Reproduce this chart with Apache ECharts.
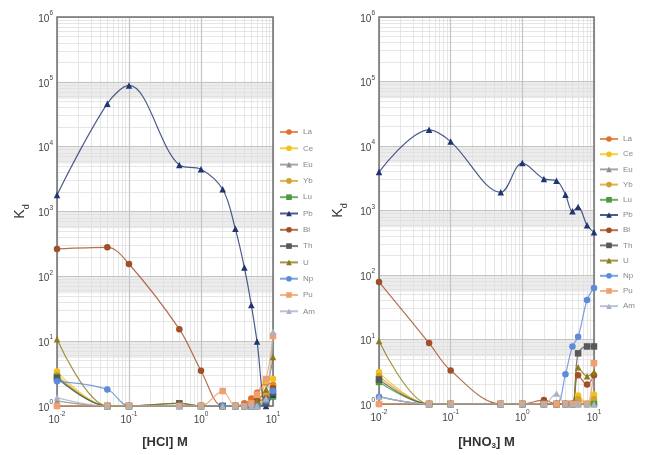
<!DOCTYPE html>
<html>
<head>
<meta charset="utf-8">
<script src="https://cdn.jsdelivr.net/npm/echarts@6/dist/echarts.min.js"></script>
<style>
html,body{margin:0;padding:0;background:#fff;}
#chart{width:648px;height:455px;}
</style>
</head>
<body>
<div id="chart"></div>
<script>
// acid concentration (M), same points for both panels
var conc=[0.01,0.05,0.1,0.5,1,2,3,4,5,6,8,10];
var elements=['La','Ce','Eu','Yb','Lu','Pb','Bi','Th','U','Np','Pu','Am'];

// Kd in HCl
var hclLa=[1,1,1,1,1,1,1,1.1,1.3,1.6,2.3,2.1];
var hclCe=[3.4,1,1,1,1,1,1,1,1,1,2.4,2.6];
var hclEu=[1.2,1,1,1,1,1,1,1,1,1,1.2,1.5];
var hclYb=[3.0,1,1,1,1,1,1,1,1,1,1.5,2.0];
var hclLu=[2.8,1,1,1,1,1,1,1,1,1,1.1,1.4];
var hclPb=[1800,46000,88000,5200,4500,2200,540,137,36,9.9,1,1.5];
var hclBi=[265,280,155,15.3,3.5,1,1,1,1.1,1.2,1.3,1.9];
var hclTh=[2.7,1,1,1.1,1,1,1,1,1,1,1.1,1.6];
var hclU=[10.7,1,1,1.1,1,1,1,1,1,1.2,1.8,5.7];
var hclNp=[2.4,1.8,1,1,1,1,1,1,1,1,1.2,1.7];
var hclPu=[1,1,1,1,1,1.7,1,1,1.1,1.5,2.6,12];
var hclAm=[1.35,1,1,1,1,1,1,1,1,1,1.3,14];

// Kd in HNO3
var hno3La=[1,1,1,1,1,1,1,1,1,1,1,1];
var hno3Ce=[3.1,1,1,1,1,1,1,1,1,1.35,1,1.4];
var hno3Eu=[1.3,1,1,1,1,1,1,1,1,1,1,1];
var hno3Yb=[2.7,1,1,1,1,1,1,1,1,1.2,1,1.2];
var hno3Lu=[2.2,1,1,1,1,1,1,1,1,1,1,1];
var hno3Pb=[3950,17800,11700,1910,5430,3090,2900,1760,975,1135,590,460];
var hno3Bi=[78,8.8,3.3,1,1,1.15,1,1,1,2.8,2.0,2.8];
var hno3Th=[2.4,1,1,1,1,1,1,1,1,6.1,7.8,7.8];
var hno3U=[9.5,1,1,1,1,1,1,1,1,3.7,2.7,3.1];
var hno3Np=[1.3,1,1,1,1,1,1,2.9,7.8,11,41,63];
var hno3Pu=[1,1,1,1,1,1,1,1,1,1,1,4.3];
var hno3Am=[1.3,1,1,1,1,1,1.45,1,1,1,1,1];

var hclData=[hclLa,hclCe,hclEu,hclYb,hclLu,hclPb,hclBi,hclTh,hclU,hclNp,hclPu,hclAm];
var hno3Data=[hno3La,hno3Ce,hno3Eu,hno3Yb,hno3Lu,hno3Pb,hno3Bi,hno3Th,hno3U,hno3Np,hno3Pu,hno3Am];

var colors=['#e0702e','#f3c21a','#8e8e8e','#d2a22e','#4e9a3a','#1f3470','#a24e26','#585858','#8b7a1a','#5b8bd9','#f0a070','#a9b3c6'];
var symbols=['circle','circle','triangle','circle','rect','triangle','circle','rect','triangle','circle','rect','triangle'];

var font='"Liberation Sans", Arial, sans-serif';

function pairs(ys){
	var out=[];
	for(var i=0;i<conc.length;i++){
		out.push([conc[i],ys[i]]);
	}
	return out;
}

function powLabel(v){
	var e=Math.round(Math.log(v)/Math.LN10);
	return '{b|10}{s|'+e+'}';
}
var powRich={
	b:{fontSize:10,color:'#444',fontFamily:font,lineHeight:14,verticalAlign:'bottom'},
	s:{fontSize:6.5,color:'#444',fontFamily:font,lineHeight:14,verticalAlign:'top'}
};

//网格辅助：次网格线和灰色条带
function gridHelper(idx){
	var lines=[];
	var n,k;
	for(n=-2;n<=0;n++){
		for(k=2;k<=9;k++){ lines.push({xAxis:k*Math.pow(10,n)}); }
	}
	for(n=0;n<=5;n++){
		for(k=2;k<=9;k++){ lines.push({yAxis:k*Math.pow(10,n)}); }
	}
	var bands=[];
	for(n=1;n<=5;n++){
		bands.push([{yAxis:5.5*Math.pow(10,n-1)},{yAxis:Math.pow(10,n)}]);
	}
	return {
		type:'line',
		name:'grid'+idx,
		xAxisIndex:idx,
		yAxisIndex:idx,
		data:[],
		silent:true,
		z:0,
		markLine:{
			silent:true,
			z:1,
			symbol:['none','none'],
			label:{show:false},
			animation:false,
			lineStyle:{color:'#e0e0e0',width:0.8,type:'solid'},
			data:lines
		},
		markArea:{
			silent:true,
			z:0,
			itemStyle:{color:'#ececec'},
			data:bands
		}
	};
}

var series=[gridHelper(0),gridHelper(1)];
function addPanel(dataList,idx){
	for(var i=0;i<elements.length;i++){
		series.push({
			name:elements[i],
			type:'line',
			xAxisIndex:idx,
			yAxisIndex:idx,
			data:pairs(dataList[i]),
			smooth:0.35,
			symbol:symbols[i],
			symbolSize:6.5,
			z:5,
			itemStyle:{color:colors[i]},
			lineStyle:{color:colors[i],width:1.2,opacity:0.8}
		});
	}
}
addPanel(hclData,0);
addPanel(hno3Data,1);

function xAx(idx,nameRich,nameText){
	return {
		type:'log',
		logBase:10,
		gridIndex:idx,
		min:0.01,
		max:10,
		splitNumber:3,
		name:nameText,
		nameLocation:'middle',
		nameGap:30,
		nameTextStyle:{rich:nameRich},
		axisLine:{show:false},
		axisTick:{show:false},
		axisLabel:{formatter:powLabel,rich:powRich,margin:5},
		splitLine:{show:true,lineStyle:{color:'#c4c4c4',width:1.2}},
		z:2
	};
}
function yAx(idx,gap){
	return {
		type:'log',
		logBase:10,
		gridIndex:idx,
		min:1,
		max:1000000,
		splitNumber:6,
		name:'{k|K}{d|d}',
		nameLocation:'middle',
		nameGap:gap,
		nameTextStyle:{rich:{
			k:{fontSize:14,color:'#333',fontFamily:font,lineHeight:18,verticalAlign:'top'},
			d:{fontSize:9,color:'#333',fontFamily:font,lineHeight:18,verticalAlign:'bottom'}
		}},
		axisLine:{show:false},
		axisTick:{show:false},
		axisLabel:{formatter:powLabel,rich:powRich,margin:4},
		splitLine:{show:true,lineStyle:{color:'#c4c4c4',width:1.2}},
		z:2
	};
}

var nameRichHcl={n:{fontSize:13,color:'#333',fontFamily:font,fontWeight:'bold'}};
var nameRichHno3={
	n:{fontSize:13,color:'#333',fontFamily:font,fontWeight:'bold',lineHeight:16,verticalAlign:'middle'},
	sub:{fontSize:8,color:'#333',fontFamily:font,fontWeight:'bold',lineHeight:16,verticalAlign:'bottom'}
};

var option={
	backgroundColor:'#ffffff',
	animation:false,
	grid:[
		{left:57,top:17,width:216,height:389,show:true,borderColor:'#707070',borderWidth:1.5,backgroundColor:'transparent',z:3},
		{left:379,top:17,width:215,height:389,show:true,borderColor:'#707070',borderWidth:1.5,backgroundColor:'transparent',z:3}
	],
	xAxis:[
		xAx(0,nameRichHcl,'{n|[HCl] M}'),
		xAx(1,nameRichHno3,'{n|[HNO}{sub|3}{n|] M}')
	],
	yAxis:[yAx(0,26),yAx(1,30)],
	legend:[
		{
			orient:'vertical',left:279,top:127,
			data:elements,
			itemWidth:18,itemHeight:7,itemGap:6.3,padding:0,
			textStyle:{fontSize:8,color:'#888',fontFamily:font,lineHeight:10}
		},
		{
			orient:'vertical',left:599,top:134,
			data:elements,
			itemWidth:18,itemHeight:7,itemGap:5.2,padding:0,
			textStyle:{fontSize:8,color:'#888',fontFamily:font,lineHeight:10}
		}
	],
	series:series
};

var chart=echarts.init(document.getElementById('chart'));
chart.setOption(option);
</script>
</body>
</html>
